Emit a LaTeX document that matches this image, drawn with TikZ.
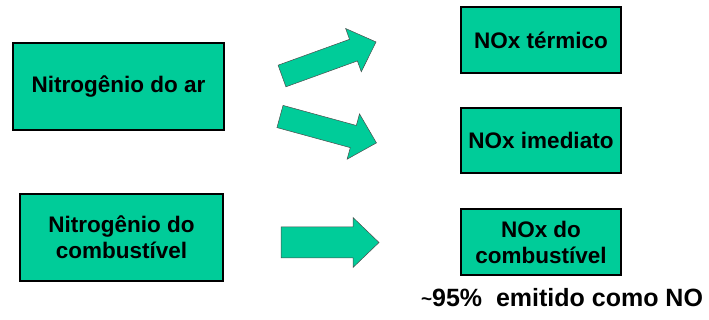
\documentclass[tikz,border=0pt]{standalone}
\usepackage{fontspec}
\setmainfont{Liberation Sans}
\definecolor{boxgreen}{HTML}{00CC99}
\newcommand{\blockarrow}[4]{% length, shaft, head width, head length
  \fill[boxgreen, draw=black!70, line width=0.5pt, line join=miter]
    (0,-#2/2) -- ({#1-#4},-#2/2) -- ({#1-#4},-#3/2) -- (#1,0) --
    ({#1-#4},#3/2) -- ({#1-#4},#2/2) -- (0,#2/2) -- cycle;}
\begin{document}
\begin{tikzpicture}[x=1pt,y=-1pt,
  gbox/.style={draw=black, line width=1.4pt, fill=boxgreen, align=center,
    inner sep=0pt, font=\fontsize{22.5}{26}\selectfont\bfseries},
  note/.style={font=\fontsize{25}{29}\selectfont\bfseries, inner sep=0pt}]
\useasboundingbox (0,0) rectangle (709,320);
\node[gbox, minimum width=211pt, minimum height=87pt] (ar) at (118.5,86.5) {Nitrogênio do ar};
\node[gbox, minimum width=203pt, minimum height=87pt] (comb) at (121.5,237.5) {Nitrogênio do\\combustível};
\node[gbox, minimum width=160pt, minimum height=66pt] (term) at (541,40) {NOx térmico};
\node[gbox, minimum width=160pt, minimum height=65pt] (imed) at (541,140.5) {NOx imediato};
\node[gbox, minimum width=160pt, minimum height=66pt] (ncomb) at (541,242) {NOx do\\combustível};
\node[note, anchor=base] (pct) at (562,306) {\raisebox{1pt}{\fontsize{19}{21}\selectfont\textasciitilde}95\%\ \ emitido como NO};
\begin{scope}[shift={(282,76)}, rotate=19.9]
  \blockarrow{100}{23}{46}{24}
\end{scope}
\begin{scope}[shift={(280,116.5)}, rotate=-15.3]
  \blockarrow{100}{23}{47}{24}
\end{scope}
\begin{scope}[shift={(281,242.5)}]
  \blockarrow{98}{31}{50}{26}
\end{scope}
\end{tikzpicture}
\end{document}
